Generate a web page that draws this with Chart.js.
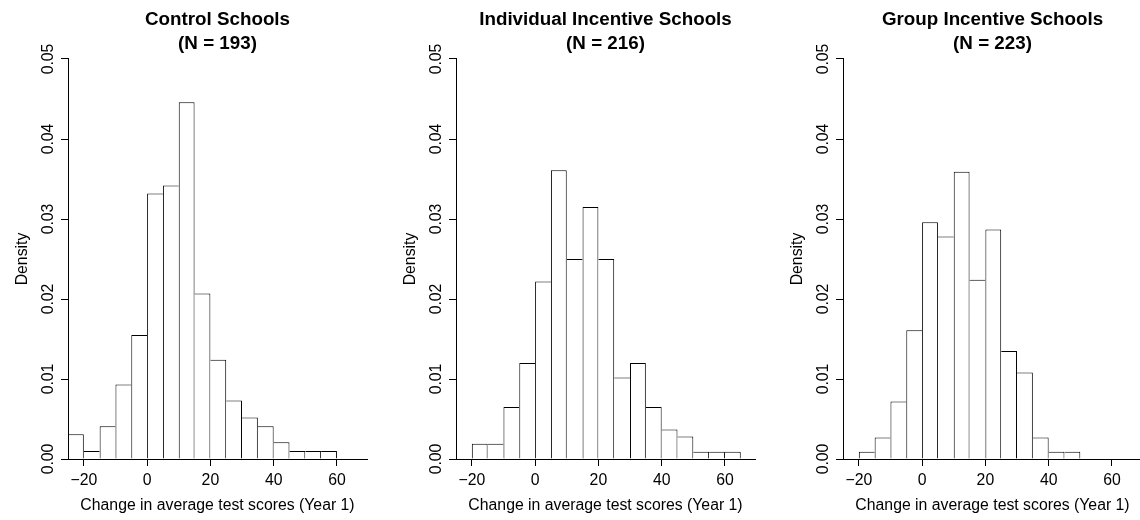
<!DOCTYPE html>
<html>
<head>
<meta charset="utf-8">
<script src="https://cdn.jsdelivr.net/npm/chart.js@4.4.1/dist/chart.umd.min.js"></script>
<style>
  html, body { margin: 0; padding: 0; background: #fff; overflow: hidden; }
  #wrap { position: relative; width: 1140px; height: 520px; overflow: hidden; }
  #wrap canvas { position: absolute; top: 0; }
</style>
</head>
<body>
<div id="wrap">
  <canvas id="c1" width="380" height="520" style="left:0px"></canvas>
  <canvas id="c2" width="380" height="520" style="left:388px"></canvas>
  <canvas id="c3" width="380" height="520" style="left:775px"></canvas>
</div>
<script>
// bin lower edges (width 5) and densities
const controlStarts = [-25, -20, -15, -10, -5, 0, 5, 10, 15, 20, 25, 30, 35, 40, 45, 50, 55];
const controlDensity = [0.0031, 0.0010, 0.0041, 0.0093, 0.0155, 0.0332, 0.0342, 0.0446, 0.0207, 0.0124, 0.0073, 0.0052, 0.0041, 0.0021, 0.0010, 0.0010, 0.0010];

const indivStarts = [-20, -15, -10, -5, 0, 5, 10, 15, 20, 25, 30, 35, 40, 45, 50, 55, 60];
const indivDensity = [0.0019, 0.0019, 0.0065, 0.0120, 0.0222, 0.0361, 0.0250, 0.0315, 0.0250, 0.0102, 0.0120, 0.0065, 0.0037, 0.0028, 0.0009, 0.0009, 0.0009];

const groupStarts = [-20, -15, -10, -5, 0, 5, 10, 15, 20, 25, 30, 35, 40, 45];
const groupDensity = [0.0009, 0.0027, 0.0072, 0.0161, 0.0296, 0.0278, 0.0359, 0.0224, 0.0287, 0.0135, 0.0108, 0.0027, 0.0009, 0.0009];

const binWidth = 5;
const xTicks = [-20, 0, 20, 40, 60];
const yTicks = [0, 0.01, 0.02, 0.03, 0.04, 0.05];
const xLabel = "Change in average test scores (Year 1)";
const yLabel = "Density";

const FONT = "'Liberation Sans', Arial, Helvetica, sans-serif";
const FS = 15.8;

// only the taller of two neighbouring bars draws the shared edge
function barEdges(ctx) {
  const d = ctx.dataset.data;
  const i = ctx.dataIndex;
  const h = d[i].y;
  const prev = i > 0 ? d[i - 1].y : -1;
  const next = i < d.length - 1 ? d[i + 1].y : -1;
  return { left: h > prev ? 1 : 0, right: h >= next ? 1 : 0, top: 1, bottom: 0 };
}

function makeHist(id, title, n, starts, density) {
  const pts = starts.map((s, i) => ({ x: s + binWidth / 2, y: density[i] }));
  new Chart(document.getElementById(id), {
    type: "bar",
    data: {
      datasets: [{
        data: pts,
        backgroundColor: "#fff",
        borderColor: "#000",
        borderWidth: barEdges,
        borderSkipped: false,
        inflateAmount: 0,
        barPercentage: 1,
        categoryPercentage: 1
      }]
    },
    options: {
      responsive: false,
      animation: false,
      devicePixelRatio: 1,
      layout: { padding: { left: 0, right: 13, top: 0, bottom: 0 } },
      plugins: {
        legend: { display: false },
        tooltip: { enabled: false },
        title: {
          display: true,
          fullSize: false,
          text: [title, "(N = " + n + ")"],
          color: "#000",
          font: { family: FONT, size: 18.8, weight: "bold", lineHeight: 24 / 18.8 },
          padding: { top: 7.5, bottom: 3.5 }
        }
      },
      scales: {
        x: {
          type: "linear",
          min: -25,
          max: 69.5,
          offset: false,
          afterBuildTicks: s => { s.ticks = xTicks.map(v => ({ value: v })); },
          afterFit: s => { s.height = 61; },
          grid: { offset: false, drawOnChartArea: false, drawTicks: true, tickLength: 7, color: "#000" },
          border: { display: true, color: "#000", width: 1 },
          ticks: {
            color: "#000",
            padding: 5,
            maxRotation: 0,
            font: { family: FONT, size: FS },
            callback: v => (v < 0 ? "\u2212" + Math.abs(v) : String(v))
          },
          title: {
            display: true,
            text: xLabel,
            color: "#000",
            font: { family: FONT, size: FS },
            padding: { top: 0, bottom: 5.2 }
          }
        },
        y: {
          min: 0,
          max: 0.05,
          afterBuildTicks: s => { s.ticks = yTicks.map(v => ({ value: v })); },
          afterFit: s => { s.width = 68; },
          grid: { drawOnChartArea: false, drawTicks: true, tickLength: 7, color: "#000" },
          border: { display: true, color: "#000", width: 1 },
          ticks: {
            color: "#000",
            padding: -3,
            minRotation: 90,
            maxRotation: 90,
            crossAlign: "center",
            font: { family: FONT, size: FS },
            callback: v => v.toFixed(2)
          },
          title: {
            display: true,
            text: yLabel,
            color: "#000",
            font: { family: FONT, size: FS },
            padding: { top: 13.5, bottom: 0 }
          }
        }
      }
    }
  });
}

makeHist("c1", "Control Schools", 193, controlStarts, controlDensity);
makeHist("c2", "Individual Incentive Schools", 216, indivStarts, indivDensity);
makeHist("c3", "Group Incentive Schools", 223, groupStarts, groupDensity);
</script>
</body>
</html>
